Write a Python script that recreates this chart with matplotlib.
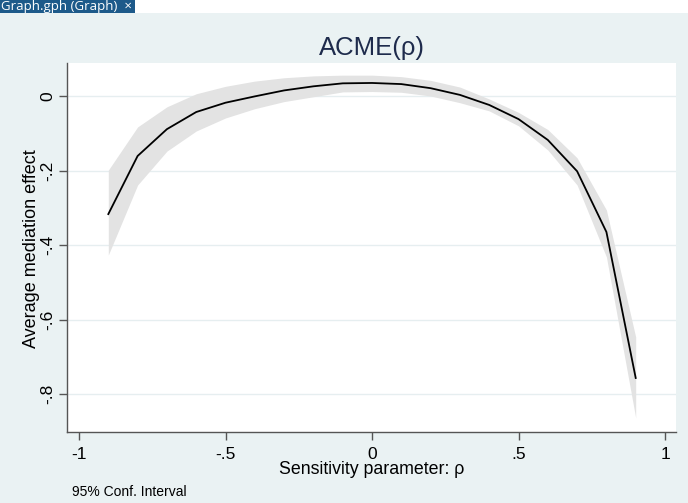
import matplotlib.pyplot as plt
from matplotlib.patches import Rectangle

# valores
rho = [-0.9, -0.8, -0.7, -0.6, -0.5, -0.4, -0.3, -0.2, -0.1, 0.0,
       0.1, 0.2, 0.3, 0.4, 0.5, 0.6, 0.7, 0.8, 0.9]
acme = [-0.317, -0.161, -0.089, -0.043, -0.018, -0.001, 0.015, 0.026, 0.034, 0.035,
        0.032, 0.021, 0.003, -0.024, -0.062, -0.118, -0.202, -0.365, -0.757]
ci_upper = [-0.199, -0.083, -0.029, 0.006, 0.026, 0.040, 0.049, 0.054, 0.056, 0.056,
            0.052, 0.042, 0.024, -0.008, -0.044, -0.090, -0.166, -0.306, -0.647]
ci_lower = [-0.427, -0.239, -0.148, -0.094, -0.059, -0.034, -0.015, -0.002, 0.011, 0.012,
            0.010, 0.000, -0.018, -0.040, -0.080, -0.145, -0.239, -0.432, -0.864]

xticks = [-1, -0.5, 0, 0.5, 1]
xtick_labels = ["-1", "-.5", "0", ".5", "1"]
yticks = [0, -0.2, -0.4, -0.6, -0.8]
ytick_labels = ["0", "-.2", "-.4", "-.6", "-.8"]

plt.rcParams['font.family'] = ['Liberation Sans', 'DejaVu Sans']

bg = '#EAF2F3'
fig = plt.figure(figsize=(6.88, 5.03), dpi=100, facecolor=bg)

# aba do Stata no topo
fig.patches.append(Rectangle((0, 1 - 13 / 503), 1, 13 / 503, transform=fig.transFigure,
                             facecolor='white', edgecolor='none'))
fig.patches.append(Rectangle((0, 1 - 13 / 503), 135 / 688, 13 / 503, transform=fig.transFigure,
                             facecolor='#1D5A8A', edgecolor='none'))
fig.text(1 / 688, 1 - 6.5 / 503, "Graph.gph (Graph)  \u00d7", color='white', fontsize=9.5,
         va='center', ha='left', family=['Open Sans', 'DejaVu Sans'])

ax = fig.add_axes([67 / 688, 71 / 503, 609 / 688, 369 / 503])
ax.set_facecolor('white')

ax.fill_between(rho, ci_lower, ci_upper, color='#E3E3E3', linewidth=0, zorder=2)
ax.plot(rho, acme, color='black', linewidth=1.3, zorder=3)

ax.set_xlim(-1.041, 1.0375)
ax.set_ylim(-0.902, 0.0886)
ax.set_xticks(xticks)
ax.set_xticklabels(xtick_labels)
ax.set_yticks(yticks)
ax.set_yticklabels(ytick_labels, rotation=90, va='center')
ax.tick_params(axis='both', labelsize=12.5, length=6, width=1, color='#555555', direction='out')
ax.tick_params(axis='y', pad=2.5)
ax.tick_params(axis='x', pad=5)
ax.grid(axis='y', color='#E6EEF0', linewidth=1, zorder=1)
ax.set_axisbelow(True)

for s in ['top', 'right']:
    ax.spines[s].set_visible(False)
for s in ['left', 'bottom']:
    ax.spines[s].set_color('#555555')
    ax.spines[s].set_linewidth(1)

ax.set_title("ACME(\u03c1)", fontsize=18.5, color='#1E2B4C', pad=6)
ax.set_xlabel("Sensitivity parameter: \u03c1", fontsize=12.8, labelpad=-1)
ax.set_ylabel("Average mediation effect", fontsize=13, va='center')
ax.yaxis.set_label_coords(-0.058, 0.497)

fig.text(72 / 688, 1 - 492 / 503, "95% Conf. Interval", fontsize=10, va='center', ha='left')

fig.savefig("out.png", dpi=100, facecolor=bg)
